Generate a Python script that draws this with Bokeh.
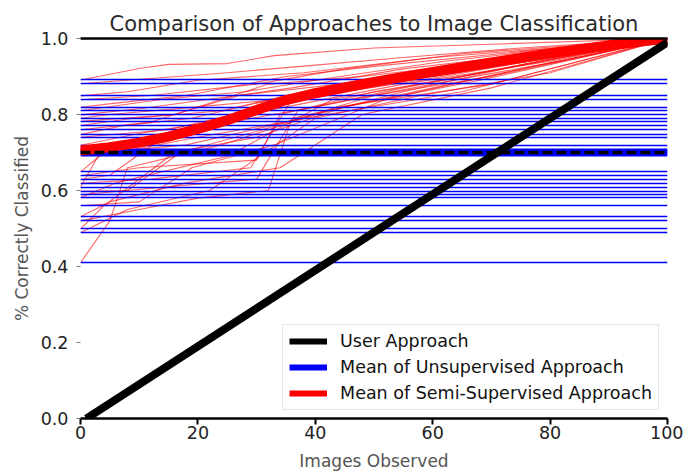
from bokeh.plotting import figure
from bokeh.models import Legend, LegendItem, LinearAxis, FixedTicker, PrintfTickFormatter
from bokeh.embed import file_html
from bokeh.resources import INLINE

# ---------------- data ----------------
x_ticks = [0, 20, 40, 60, 80, 100]
y_ticks = [0.0, 0.2, 0.4, 0.6, 0.8, 1.0]

user_x = [1, 100]
user_y = [0.0, 0.99]

unsup_levels = [0.891, 0.881, 0.849, 0.839, 0.819, 0.810, 0.799, 0.790, 0.782, 0.771,
                0.760, 0.747, 0.740, 0.719, 0.649, 0.639, 0.629, 0.619, 0.609, 0.598,
                0.589, 0.581, 0.560, 0.531, 0.520, 0.499, 0.489, 0.410]
unsup_mean = 0.70

semi_mean_x = [0, 5, 10, 15, 20, 25, 30, 35, 40, 45, 50, 60, 70, 80, 90, 100]
semi_mean_y = [0.705, 0.714, 0.726, 0.742, 0.762, 0.785, 0.812, 0.838, 0.856, 0.871,
               0.886, 0.912, 0.937, 0.961, 0.982, 1.0]

semi_runs_x = [
    [0, 10, 15, 25, 33, 50, 70, 100],
    [0, 25, 40, 55, 75, 100],
    [0, 8, 20, 38, 60, 85, 100],
    [0, 12, 30, 45, 65, 100],
    [0, 6, 18, 35, 52, 78, 100],
    [0, 14, 28, 40, 62, 88, 100],
    [0, 10, 22, 36, 55, 80, 100],
    [0, 5, 20, 32, 48, 70, 100],
    [0, 16, 27, 44, 66, 90, 100],
    [0, 9, 24, 38, 58, 82, 100],
    [0, 12, 20, 34, 50, 75, 100],
    [0, 7, 19, 30, 46, 68, 100],
    [0, 15, 26, 42, 60, 85, 100],
    [0, 10, 22, 35, 55, 80, 100],
    [0, 4, 18, 35, 55, 75, 100],
    [0, 10, 30, 34, 50, 72, 100],
    [0, 5, 15, 40, 60, 85, 100],
    [0, 12, 29, 36, 58, 80, 100],
    [0, 3, 20, 42, 65, 100],
    [0, 8, 17, 31, 50, 70, 100],
    [0, 15, 30, 37, 55, 78, 100],
    [0, 6, 25, 43, 62, 88, 100],
    [0, 10, 19, 33, 52, 75, 100],
    [0, 5, 18, 34, 48, 70, 100],
    [0, 10, 20, 32, 36, 60, 100],
    [0, 4, 16, 30, 45, 68, 100],
    [0, 8, 22, 40, 58, 80, 100],
    [0, 5, 8, 24, 44, 70, 100],
]
semi_runs_y = [
    [0.891, 0.921, 0.932, 0.934, 0.955, 0.975, 0.985, 1.0],
    [0.881, 0.91, 0.93, 0.95, 0.975, 1.0],
    [0.849, 0.86, 0.89, 0.91, 0.95, 0.98, 1.0],
    [0.839, 0.85, 0.88, 0.92, 0.96, 1.0],
    [0.819, 0.83, 0.85, 0.90, 0.93, 0.97, 1.0],
    [0.810, 0.84, 0.86, 0.89, 0.94, 0.985, 1.0],
    [0.799, 0.815, 0.84, 0.87, 0.92, 0.965, 1.0],
    [0.790, 0.80, 0.82, 0.88, 0.90, 0.94, 1.0],
    [0.782, 0.80, 0.85, 0.88, 0.93, 0.97, 1.0],
    [0.771, 0.79, 0.81, 0.86, 0.91, 0.96, 1.0],
    [0.760, 0.78, 0.82, 0.84, 0.89, 0.95, 1.0],
    [0.747, 0.77, 0.79, 0.83, 0.87, 0.92, 1.0],
    [0.740, 0.76, 0.80, 0.85, 0.90, 0.96, 1.0],
    [0.719, 0.75, 0.78, 0.82, 0.88, 0.94, 1.0],
    [0.649, 0.70, 0.72, 0.78, 0.86, 0.93, 1.0],
    [0.639, 0.66, 0.68, 0.80, 0.86, 0.92, 1.0],
    [0.629, 0.64, 0.75, 0.82, 0.88, 0.95, 1.0],
    [0.619, 0.63, 0.66, 0.84, 0.89, 0.95, 1.0],
    [0.609, 0.69, 0.74, 0.80, 0.86, 1.0],
    [0.598, 0.60, 0.70, 0.76, 0.85, 0.90, 1.0],
    [0.589, 0.61, 0.63, 0.81, 0.87, 0.94, 1.0],
    [0.581, 0.62, 0.69, 0.84, 0.89, 0.97, 1.0],
    [0.560, 0.57, 0.66, 0.72, 0.84, 0.92, 1.0],
    [0.531, 0.57, 0.62, 0.66, 0.80, 0.87, 1.0],
    [0.520, 0.55, 0.58, 0.60, 0.79, 0.87, 1.0],
    [0.499, 0.56, 0.70, 0.74, 0.82, 0.89, 1.0],
    [0.489, 0.55, 0.60, 0.79, 0.85, 0.91, 1.0],
    [0.410, 0.52, 0.66, 0.72, 0.82, 0.88, 1.0],
]

FONT = "DejaVu Sans"

p = figure(width=683, height=473, output_backend="svg", toolbar_location=None,
           x_range=(x_ticks[0], x_ticks[-1]), y_range=(y_ticks[0], y_ticks[-1]),
           min_border_left=80, min_border_right=16, min_border_top=38, min_border_bottom=55,
           title="Comparison of Approaches to Image Classification")
p.outline_line_color = None
p.grid.visible = False
p.background_fill_color = "white"
p.border_fill_color = "white"

p.title.align = "center"
p.title.text_font = FONT
p.title.text_font_size = "21px"
p.title.text_font_style = "normal"
p.title.text_color = "#2a2a2a"
p.title.standoff = 5

# runs
p.multi_line(xs=semi_runs_x, ys=semi_runs_y, line_color="#ff0000", line_alpha=0.6, line_width=1.1)
p.hspan(y=unsup_levels, line_color="#0000ff", line_width=1.6)

# legend proxies (drawn underneath the thicker series lines)
r_uns = p.line([x_ticks[0], x_ticks[-1]], [unsup_mean, unsup_mean], line_color="#0000ff", line_width=6)
p.hspan(y=[unsup_mean], line_color="#0000ff", line_width=8)
r_semi = p.line(semi_mean_x, semi_mean_y, line_color="#ff0000", line_width=6)
p.line(semi_mean_x, semi_mean_y, line_color="#ff0000", line_width=10)
p.hspan(y=[unsup_mean], line_color="black", line_width=3.5, line_dash="10 4")
r_user = p.line(user_x, user_y, line_color="black", line_width=6)
p.line(user_x, user_y, line_color="black", line_width=8)

legend = Legend(items=[
    LegendItem(label="User Approach", renderers=[r_user]),
    LegendItem(label="Mean of Unsupervised Approach", renderers=[r_uns]),
    LegendItem(label="Mean of Semi-Supervised Approach", renderers=[r_semi]),
], location="bottom_right")
legend.label_text_font = FONT
legend.label_text_font_size = "17.5px"
legend.label_text_color = "#111111"
legend.glyph_width = 38
legend.glyph_height = 20
legend.label_height = 20
legend.label_standoff = 13
legend.spacing = 6
legend.padding = 6
legend.margin = 8
legend.border_line_color = "#cccccc"
legend.border_line_width = 1
legend.background_fill_alpha = 0.85
p.add_layout(legend)

# axes
xa = p.xaxis[0]
xa.ticker = FixedTicker(ticks=x_ticks)
xa.axis_label = "Images Observed"
xa.axis_line_width = 2.5
xa.axis_line_color = "black"
xa.major_tick_out = 6
xa.major_tick_in = 0
xa.major_tick_line_width = 2
xa.minor_tick_line_color = None
xa.major_label_standoff = 1
xa.axis_label_standoff = 9

ya = p.yaxis[0]
ya.ticker = FixedTicker(ticks=y_ticks)
ya.formatter = PrintfTickFormatter(format="%.1f")
ya.axis_label = "% Correctly Classified"
ya.axis_line_color = None
ya.major_tick_out = 4
ya.major_tick_in = 0
ya.major_tick_line_color = "#777777"
ya.minor_tick_line_color = None
ya.major_label_standoff = 8
ya.axis_label_standoff = 6

for ax in (xa, ya):
    ax.major_label_text_font = FONT
    ax.major_label_text_font_size = "17.5px"
    ax.major_label_text_color = "#222222"
    ax.axis_label_text_font = FONT
    ax.axis_label_text_font_size = "17px"
    ax.axis_label_text_font_style = "normal"
    ax.axis_label_text_color = "#555555"

top = LinearAxis(ticker=FixedTicker(ticks=[]), axis_line_width=2.5, axis_line_color="black",
                 major_tick_line_color=None, minor_tick_line_color=None,
                 major_label_text_font_size="0px")
p.add_layout(top, "above")

open("out.html", "w").write(file_html(p, INLINE))
